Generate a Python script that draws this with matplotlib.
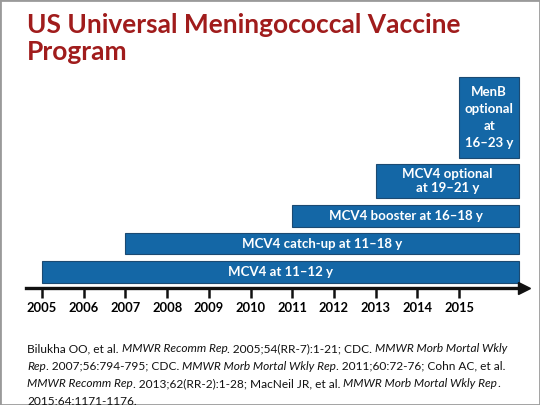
import matplotlib
matplotlib.use("Agg")
import matplotlib.pyplot as plt
from matplotlib.patches import Rectangle

# data
programs = ["MCV4 at 11\u201312 y", "MCV4 catch-up at 11\u201318 y", "MCV4 booster at 16\u201318 y",
            "MCV4 optional\nat 19\u201321 y", "MenB\noptional\nat\n16\u201323 y"]
start_years = [2005, 2007, 2011, 2013, 2015]
end_year = 2016.45
tick_years = list(range(2005, 2016))

title_lines = ["US Universal Meningococcal Vaccine", "Program"]
refs = [
    [("Bilukha OO, et al. ", "normal"), ("MMWR Recomm Rep", "italic"), (". 2005;54(RR-7):1-21; CDC. ", "normal"),
     ("MMWR Morb Mortal Wkly", "italic")],
    [("Rep", "italic"), (". 2007;56:794-795; CDC. ", "normal"), ("MMWR Morb Mortal Wkly Rep", "italic"),
     (". 2011;60:72-76; Cohn AC, et al.", "normal")],
    [("MMWR Recomm Rep", "italic"), (". 2013;62(RR-2):1-28; MacNeil JR, et al. ", "normal"),
     ("MMWR Morb Mortal Wkly Rep", "italic"), (".", "normal")],
    [("2015;64:1171-1176.", "normal")],
]

# layout (pixel rows for each bar, top-down)
bar_centers = [272, 243.5, 216, 181, 117.5]
bar_heights = [22, 21, 22, 34, 81]
line_spacings = [1.15, 1.15, 1.15, 1.2, 1.5]

W, H = 540, 405
fig = plt.figure(figsize=(5.4, 4.05), dpi=100)
fig.patch.set_facecolor("white")

px = 41.7  # pixels per year
x0 = 2005 - 42 / px
x1 = 2005 + (W - 42) / px
ax = fig.add_axes([0, (H - 288) / H, 1, (288 - 70) / H])
ax.set_xlim(x0, x1)
ax.set_ylim(288, 70)
ax.patch.set_alpha(0)
for s in ["top", "left", "right"]:
    ax.spines[s].set_visible(False)
ax.spines["bottom"].set_linewidth(2.4)
ax.spines["bottom"].set_color("#111111")
ax.spines["bottom"].set_bounds(2005 - 16 / px, end_year + 0.05)
ax.plot([end_year + 0.1], [288], marker=">", markersize=8, color="#111111", clip_on=False)
ax.set_yticks([])
ax.set_xticks(tick_years)
ax.set_xticklabels([str(y) for y in tick_years], fontsize=9.3, fontweight="bold", family="Lato")
ax.tick_params(axis="x", length=7, width=1.8, color="#111111", pad=3)

ax.barh(bar_centers, [end_year - s for s in start_years], left=start_years, height=bar_heights,
        color="#1467A6", edgecolor="#1B4A72", linewidth=0.8)
for lab, s, c, ls in zip(programs, start_years, bar_centers, line_spacings):
    ax.text((s + end_year) / 2, c, lab, ha="center", va="center", color="white",
            fontsize=9.5, fontweight="bold", family="Lato", linespacing=ls)

for i, line in enumerate(title_lines):
    fig.text(27 / W, 1 - (33 + 27 * i) / H, line, ha="left", va="baseline",
             fontsize=19, fontweight="bold", family="Lato", color="#A01C1C")

# references with mixed italic
renderer = fig.canvas.get_renderer()
for i, line in enumerate(refs):
    x = 27
    y = 352 + i * 17.5
    for txt, style in line:
        t = fig.text(x / W, 1 - y / H, txt, ha="left", va="baseline", fontsize=8.6, family="Lato",
                     style=style, color="#111111")
        x += t.get_window_extent(renderer).width

fig.add_artist(Rectangle((0, 0), 1, 1, transform=fig.transFigure, fill=False,
                         edgecolor="#9a9a9a", linewidth=2))

fig.savefig("out.png", dpi=100)
